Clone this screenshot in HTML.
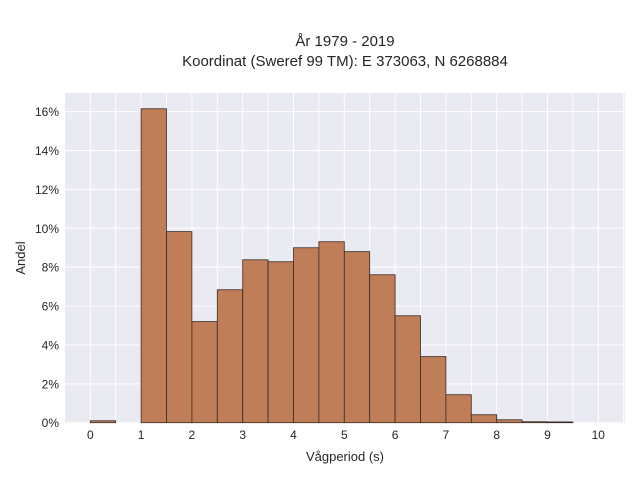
<!DOCTYPE html>
<html><head><meta charset="utf-8"><style>
body{margin:0;background:#fff;font-family:"Liberation Sans",sans-serif;}
svg text{font-family:"Liberation Sans",sans-serif;fill:#262626;}
</style></head><body>
<svg width="640" height="480">
<text x="345" y="46" text-anchor="middle" font-size="15">År 1979 - 2019</text>
<text x="345" y="66" text-anchor="middle" font-size="15">Koordinat (Sweref 99 TM): E 373063, N 6268884</text>
<rect x="65" y="93" width="560" height="330" fill="#eaeaf2"/>
<g id="grid"></g><g id="bars"></g><g id="ticks"></g>
<text x="345" y="461" text-anchor="middle" font-size="13">Vågperiod (s)</text>
<text transform="translate(25,258) rotate(-90)" text-anchor="middle" font-size="13">Andel</text>
</svg>
<script>
const binStarts=[0,0.5,1,1.5,2,2.5,3,3.5,4,4.5,5,5.5,6,6.5,7,7.5,8,8.5,9,9.5];
const shares=[0.1,0,16.15,9.83,5.2,6.84,8.38,8.28,9.0,9.31,8.8,7.61,5.5,3.4,1.44,0.41,0.15,0.05,0.04,0];
const xTicks=[0,1,2,3,4,5,6,7,8,9,10];
const yTicks=[0,2,4,6,8,10,12,14,16];
const NS="http://www.w3.org/2000/svg";
const X=v=>90.3+v*50.8, Y=v=>422.7-v*19.44;
const grid=document.getElementById('grid'),bars=document.getElementById('bars'),tk=document.getElementById('ticks');
function mk(tag,attrs,parent){const e=document.createElementNS(NS,tag);for(const k in attrs)e.setAttribute(k,attrs[k]);parent.appendChild(e);return e;}
for(let v=-0.5;v<=10.5;v+=0.5){if(X(v)<65||X(v)>625)continue;
const l=mk('line',{x1:X(v),x2:X(v),y1:93,y2:423,stroke:'#fff','stroke-width':1},grid);

}
yTicks.forEach(v=>{const l=mk('line',{x1:65,x2:625,y1:Y(v),y2:Y(v),stroke:'#fff','stroke-width':1},grid);


const t=mk('text',{x:59,y:Y(v)+4.5,'text-anchor':'end','font-size':12},tk);t.textContent=v+'%';

});
xTicks.forEach(v=>{const t=mk('text',{x:X(v),y:439,'text-anchor':'middle','font-size':12},tk);t.textContent=v;

});
binStarts.forEach((s,i)=>{if(shares[i]<=0)return;
const r=mk('rect',{x:X(s),y:Y(shares[i]),width:X(s+0.5)-X(s),height:Y(0)-Y(shares[i]),fill:'#bf7d58',stroke:'#3a2a22','stroke-width':0.8},bars);

});
</script>
</body></html>
